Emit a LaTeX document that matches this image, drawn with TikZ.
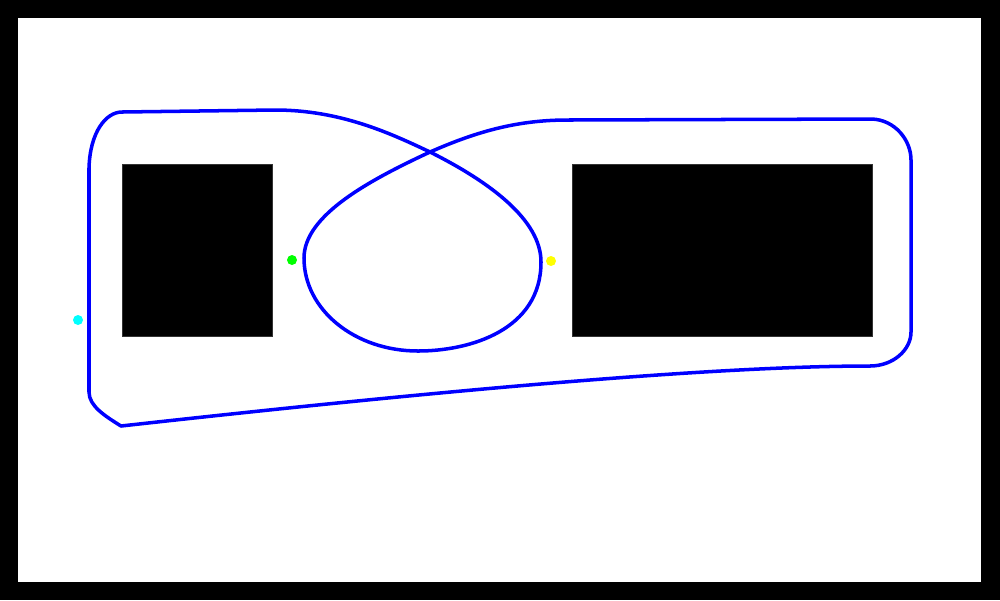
\documentclass[tikz,border=0pt]{standalone}
\usepackage{xcolor}
\usepackage{tikz}
\definecolor{routeblue}{RGB}{0, 0, 255}
\definecolor{startcyan}{RGB}{0, 255, 255}
\definecolor{markgreen}{RGB}{0, 255, 0}
\definecolor{markyellow}{RGB}{255, 255, 0}

\begin{document}
\begin{tikzpicture}[x=0.02cm, y=-0.02cm]
    % Styles
    \tikzstyle{obstacle} = [fill=black, draw=black!80, line width=0.3pt]
    \tikzstyle{route} = [draw=routeblue, line width=2pt, line join=round]
    \tikzstyle{marker} = [circle, inner sep=0pt, minimum size=0.2cm]

    % Frame
    \fill[black] (0,0) rectangle (1000,600);
    \fill[white] (18,18) rectangle (981,582);

    % Obstacles
    \draw[obstacle] (122,164) rectangle (272,336);
    \draw[obstacle] (572,164) rectangle (872,336);

    % Route
    \draw[route] (89,392) -- (89,168)
        .. controls (90,132) and (106,112) .. (122,112)
        -- (275,110)
        .. controls (340,110) and (390,133) .. (430,152)
        .. controls (490,182) and (541,220) .. (541,262)
        .. controls (541,330) and (470,351) .. (418,351)
        .. controls (355,351) and (304,310) .. (304,258)
        .. controls (304,215) and (370,180) .. (430,152)
        .. controls (480,130) and (520,120) .. (568,120)
        -- (872,119)
        .. controls (895,120) and (911,140) .. (911,160)
        -- (911,332)
        .. controls (911,350) and (893,366) .. (870,366)
        .. controls (700,366) and (400,395) .. (121,426)
        .. controls (105,416) and (89,406) .. (89,392) -- cycle;

    % Markers
    \node[marker, fill=startcyan] (start) at (78,320) {};
    \node[marker, fill=markgreen] (left) at (292,260) {};
    \node[marker, fill=markyellow] (right) at (551,261) {};
\end{tikzpicture}
\end{document}
